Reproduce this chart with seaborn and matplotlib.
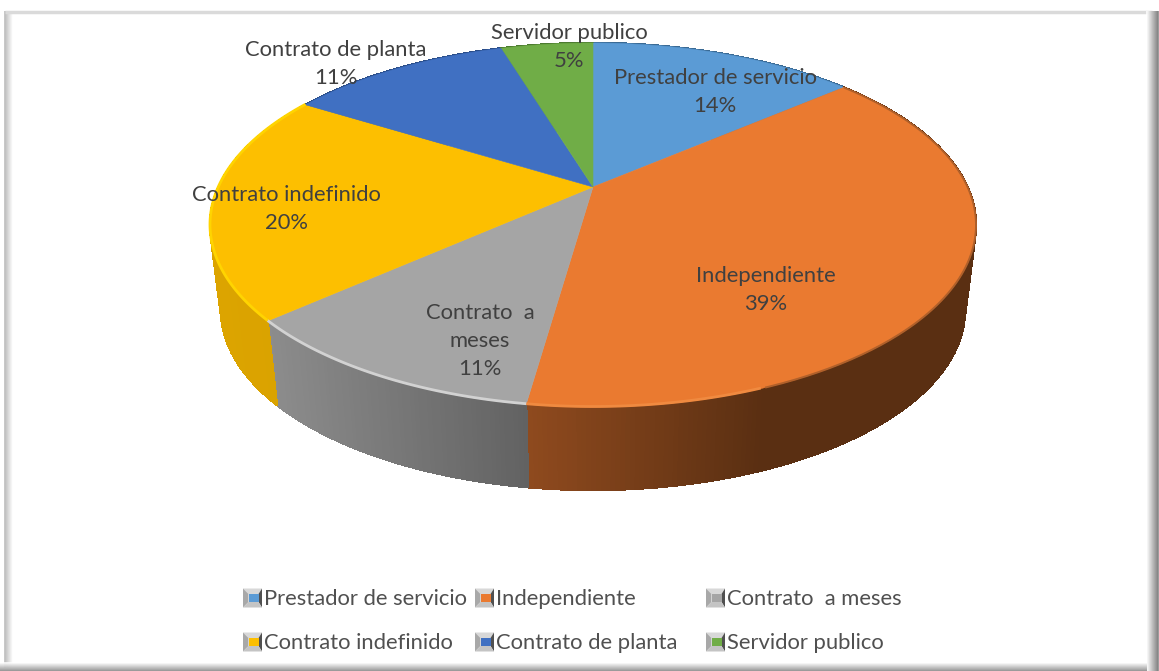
import numpy as np
import matplotlib
matplotlib.use("Agg")
import matplotlib.pyplot as plt
import seaborn as sns

# data
categories = ["Prestador de servicio", "Independiente", "Contrato  a meses",
              "Contrato indefinido", "Contrato de planta", "Servidor publico"]
values = [13.75, 38.51, 11.2, 20.32, 11.49, 4.73]

# style
hex_colors = ["#5B9BD5", "#EA7A30", "#A5A5A5", "#FDBF00", "#4070C2", "#70AD47"]
wall_left = ["#3A6A94", "#8F4A1E", "#8C8C8C", "#DCA400", "#2A4D88", "#4C7A30"]
wall_right = ["#3A6A94", "#5A2F12", "#626262", "#D9A200", "#2A4D88", "#4C7A30"]
rim_colors = [None, "#F08A40", "#D2D2D2", "#FFD400", None, None]
slice_labels = ["Prestador de servicio\n14%", "Independiente\n39%", "Contrato  a\nmeses\n11%",
                "Contrato indefinido\n20%", "Contrato de planta\n11%", "Servidor publico\n5%"]
label_xy = [(715, 92), (766, 290), (480, 341), (286, 209), (336, 64), (569, 47)]
legend_xy = [(243, 598), (475, 598), (706, 598), (243, 642), (475, 642), (706, 642)]

sns.set_theme(style="white")
palette = sns.color_palette(hex_colors)
plt.rcParams["font.family"] = ["Lato", "DejaVu Sans"]
TXT = "#404040"
FS = 15.8

W, H = 1159, 671
fig = plt.figure(figsize=(W / 100, H / 100), dpi=100, facecolor="white")
ax = fig.add_axes([0, 0, 1, 1])
ax.set_xlim(0, W)
ax.set_ylim(H, 0)
ax.axis("off")

TILT = 0.209


def project(frac, cx, cy, rx, ry):
    """Perspective view of a circle: frac is clockwise share of the turn from 12 o'clock."""
    t = 2 * np.pi * np.asarray(frac)
    a, b = np.sin(t), np.cos(t)
    den = 1 + TILT * b
    u = a * np.sqrt(1 - TILT ** 2) / den
    v = (b + TILT) / den
    return cx + rx * u, cy - ry * v


TOP = (593, 225, 383, 182)
BOT = (593, 310, 372, 180)

# frame
for i in range(9):
    g = 0.72 + 0.28 * i / 8
    ax.plot([5 + i, 5 + i], [11, 668], color=(g, g, g), lw=1.1, zorder=1, solid_capstyle="butt")
ax.plot([5, 1152], [11.5, 11.5], color="#DADADA", lw=2.5, zorder=1, solid_capstyle="butt")
for i in range(12):
    g = 1.0 - 0.5 * i / 11
    ax.plot([1147 + i, 1147 + i], [11, 671], color=(g, g, g), lw=1.1, zorder=1, solid_capstyle="butt")
for i in range(9):
    g = 1.0 - 0.42 * i / 8
    ax.plot([0, 1147], [662.5 + i, 662.5 + i], color=(g, g, g), lw=1.1, zorder=1, solid_capstyle="butt")

# pie
bounds = np.concatenate([[0], np.cumsum(values)]) / np.sum(values)


def mix(c1, c2, k):
    c1, c2 = np.array(matplotlib.colors.to_rgb(c1)), np.array(matplotlib.colors.to_rgb(c2))
    return tuple(c1 * (1 - k) + c2 * k)


# side walls
for i in range(len(values)):
    fr = np.linspace(bounds[i], bounds[i + 1], int(values[i] * 6) + 2)
    xt, yt = project(fr, *TOP)
    xb, yb = project(fr, *BOT)
    xmin, xmax = xt.min(), xt.max()
    for j in range(len(fr) - 1):
        xm = 0.5 * (xt[j] + xt[j + 1])
        k = (xm - xmin) / max(xmax - xmin, 1)
        k = min(1.0, k * 1.9) if i == 1 else k
        col = mix(wall_left[i], wall_right[i], k)
        ax.fill([xt[j], xt[j + 1], xb[j + 1], xb[j]], [yt[j], yt[j + 1], yb[j + 1], yb[j]],
                facecolor=col, edgecolor=col, lw=1.0, antialiased=False, zorder=2)
        ax.plot([xb[j], xb[j + 1]], [yb[j], yb[j + 1]], color=col, lw=1.0, zorder=2,
                solid_capstyle="round")

# top faces
for i in range(len(values)):
    fr = np.linspace(bounds[i], bounds[i + 1], int(values[i] * 6) + 2)
    x, y = project(fr, *TOP)
    # the apex is the projection of the circle's centre
    ax_x, ax_y = TOP[0], TOP[1] - TOP[3] * TILT
    ax.fill(np.r_[ax_x, x], np.r_[ax_y, y], facecolor=palette[i], edgecolor=palette[i], lw=0.4, zorder=3)
    if rim_colors[i]:
        vis = fr if i != 1 else fr[fr > 0.44]
        xr, yr = project(vis, *TOP)
        ax.plot(xr, yr - 0.5, color=rim_colors[i], lw=2.0, zorder=4, solid_capstyle="butt")
    if i == 1:
        # soft dark lip where the orange top meets the shaded wall
        vis = fr[fr < 0.44]
        xr, yr = project(vis, *TOP)
        ax.plot(xr, yr, color="#B0602A", lw=1.4, zorder=4, solid_capstyle="butt")

# slice labels
for lab, (lx, ly) in zip(slice_labels, label_xy):
    ax.text(lx, ly, lab, ha="center", va="center", fontsize=FS, color=TXT, linespacing=1.5, zorder=6)


# legend
def swatch(x, yc, col):
    s = 19
    y0 = yc - s / 2
    d = 5.5
    r = 3.5
    ax.fill([x, x + s, x + s - r, x + d], [y0, y0, y0 + d, y0 + d], color="#D8D8D8", lw=0, zorder=5)
    ax.fill([x, x + d, x + d, x], [y0, y0 + d, y0 + s - d, y0 + s], color="#A8A8A8", lw=0, zorder=5)
    ax.fill([x + s, x + s - r, x + s - r, x + s], [y0, y0 + d, y0 + s - d, y0 + s], color="#505050", lw=0, zorder=5)
    ax.fill([x, x + d, x + s - r, x + s], [y0 + s, y0 + s - d, y0 + s - d, y0 + s], color="#C4C4C4", lw=0, zorder=5)
    ax.fill([x + d, x + s - r, x + s - r, x + d], [y0 + d, y0 + d, y0 + s - d, y0 + s - d], color=col, lw=0, zorder=5)


for c, col, (lx, ly) in zip(categories, palette, legend_xy):
    swatch(lx, ly, col)
    ax.text(lx + 21, ly + 1, c, ha="left", va="center", fontsize=FS, color="#505050", zorder=6)

fig.savefig("out.png", dpi=100, facecolor="white")
